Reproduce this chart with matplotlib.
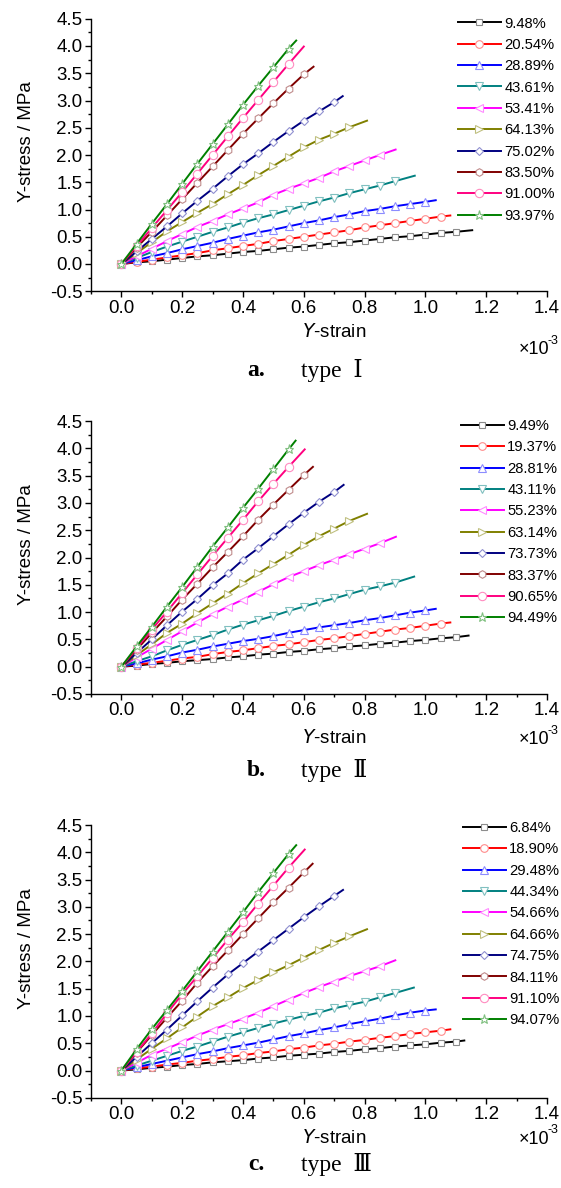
import matplotlib
matplotlib.use('Agg')
import matplotlib.pyplot as plt
from matplotlib import font_manager
from matplotlib.ticker import MultipleLocator, FormatStrFormatter

plt.rcParams['font.family'] = ['Liberation Sans', 'DejaVu Sans']
plt.rcParams['axes.unicode_minus'] = False

# strain points (x10^-3) where the curves were read; each curve ends at its own last strain
grid = [0.00, 0.05, 0.10, 0.15, 0.20, 0.25, 0.30, 0.35, 0.40, 0.45, 0.50, 0.55,
        0.60, 0.65, 0.70, 0.75, 0.80, 0.85, 0.90, 0.95, 1.00, 1.05, 1.10, 1.15]

# ---- a. type I
labels_a = ['9.48%', '20.54%', '28.89%', '43.61%', '53.41%', '64.13%', '75.02%', '83.50%', '91.00%', '93.97%']
ends_a = [1.154, 1.082, 1.034, 0.965, 0.902, 0.808, 0.728, 0.632, 0.600, 0.575]
a1 = [0, 0.03, 0.05, 0.08, 0.11, 0.14, 0.16, 0.19, 0.22, 0.24, 0.27, 0.30, 0.32, 0.35, 0.38, 0.40, 0.43, 0.46, 0.49, 0.51, 0.54, 0.57, 0.59, 0.62]
a2 = [0, 0.04, 0.08, 0.12, 0.16, 0.20, 0.25, 0.29, 0.33, 0.37, 0.42, 0.46, 0.50, 0.54, 0.58, 0.62, 0.67, 0.71, 0.75, 0.79, 0.83, 0.87, 0.89]
a3 = [0, 0.07, 0.14, 0.20, 0.27, 0.33, 0.39, 0.46, 0.52, 0.58, 0.63, 0.69, 0.75, 0.80, 0.86, 0.91, 0.97, 1.01, 1.06, 1.10, 1.14, 1.17]
a4 = [0, 0.11, 0.22, 0.32, 0.41, 0.50, 0.59, 0.67, 0.76, 0.84, 0.91, 0.99, 1.07, 1.15, 1.22, 1.30, 1.37, 1.44, 1.52, 1.62]
a5 = [0, 0.14, 0.28, 0.42, 0.55, 0.68, 0.79, 0.91, 1.02, 1.13, 1.27, 1.38, 1.48, 1.58, 1.70, 1.80, 1.90, 2.00, 2.10]
a6 = [0, 0.20, 0.40, 0.60, 0.77, 0.94, 1.10, 1.28, 1.45, 1.63, 1.80, 1.97, 2.14, 2.28, 2.39, 2.51, 2.63]
a7 = [0, 0.23, 0.46, 0.69, 0.93, 1.16, 1.38, 1.61, 1.83, 2.03, 2.24, 2.44, 2.63, 2.80, 2.97, 3.08]
a8 = [0, 0.30, 0.59, 0.89, 1.19, 1.49, 1.79, 2.09, 2.39, 2.67, 2.95, 3.22, 3.48, 3.62]
a9 = [0, 0.33, 0.66, 0.99, 1.32, 1.66, 2.00, 2.34, 2.68, 3.01, 3.34, 3.67, 3.99]
a10 = [0, 0.37, 0.74, 1.10, 1.47, 1.84, 2.20, 2.56, 2.92, 3.27, 3.61, 3.95, 4.10]

# ---- b. type II
labels_b = ['9.49%', '19.37%', '28.81%', '43.11%', '55.23%', '63.14%', '73.73%', '83.37%', '90.65%', '94.49%']
ends_b = [1.142, 1.082, 1.034, 0.963, 0.903, 0.808, 0.731, 0.630, 0.603, 0.573]
b1 = [0, 0.02, 0.05, 0.07, 0.10, 0.12, 0.14, 0.17, 0.19, 0.22, 0.24, 0.27, 0.29, 0.32, 0.34, 0.37, 0.39, 0.42, 0.44, 0.47, 0.49, 0.52, 0.54, 0.57]
b2 = [0, 0.04, 0.07, 0.11, 0.15, 0.18, 0.23, 0.27, 0.30, 0.34, 0.38, 0.41, 0.45, 0.49, 0.52, 0.56, 0.60, 0.64, 0.68, 0.71, 0.75, 0.79, 0.81]
b3 = [0, 0.06, 0.13, 0.19, 0.26, 0.31, 0.37, 0.42, 0.47, 0.51, 0.56, 0.62, 0.67, 0.72, 0.76, 0.80, 0.85, 0.89, 0.94, 0.99, 1.03, 1.06]
b4 = [0, 0.10, 0.19, 0.30, 0.40, 0.49, 0.58, 0.68, 0.77, 0.85, 0.93, 1.02, 1.10, 1.18, 1.25, 1.33, 1.41, 1.47, 1.54, 1.65]
b5 = [0, 0.17, 0.33, 0.49, 0.65, 0.81, 0.96, 1.10, 1.23, 1.37, 1.51, 1.64, 1.75, 1.86, 1.96, 2.06, 2.16, 2.26, 2.38]
b6 = [0, 0.21, 0.41, 0.62, 0.79, 0.98, 1.16, 1.34, 1.53, 1.71, 1.88, 2.05, 2.23, 2.39, 2.53, 2.67, 2.80]
b7 = [0, 0.25, 0.50, 0.76, 1.01, 1.24, 1.49, 1.71, 1.96, 2.17, 2.39, 2.61, 2.82, 3.02, 3.20, 3.33]
b8 = [0, 0.31, 0.62, 0.92, 1.23, 1.52, 1.82, 2.10, 2.39, 2.69, 2.97, 3.24, 3.51, 3.66]
b9 = [0, 0.34, 0.68, 1.01, 1.35, 1.69, 2.03, 2.36, 2.69, 3.03, 3.35, 3.66, 3.98]
b10 = [0, 0.37, 0.73, 1.10, 1.46, 1.83, 2.20, 2.55, 2.91, 3.26, 3.62, 3.98, 4.14]

# ---- c. type III
labels_c = ['6.84%', '18.90%', '29.48%', '44.34%', '54.66%', '64.66%', '74.75%', '84.11%', '91.10%', '94.07%']
ends_c = [1.128, 1.082, 1.034, 0.962, 0.901, 0.808, 0.729, 0.629, 0.603, 0.575]
c1 = [0, 0.02, 0.05, 0.07, 0.10, 0.12, 0.15, 0.17, 0.19, 0.22, 0.24, 0.27, 0.29, 0.31, 0.34, 0.36, 0.39, 0.41, 0.44, 0.46, 0.48, 0.51, 0.53, 0.55]
c2 = [0, 0.04, 0.07, 0.11, 0.14, 0.18, 0.21, 0.25, 0.28, 0.32, 0.35, 0.39, 0.42, 0.46, 0.49, 0.53, 0.56, 0.60, 0.63, 0.67, 0.70, 0.73, 0.755]
c3 = [0, 0.06, 0.12, 0.18, 0.24, 0.30, 0.35, 0.41, 0.46, 0.51, 0.57, 0.63, 0.68, 0.74, 0.79, 0.85, 0.90, 0.95, 1.01, 1.06, 1.10, 1.12]
c4 = [0, 0.09, 0.18, 0.27, 0.36, 0.44, 0.53, 0.62, 0.70, 0.78, 0.86, 0.93, 1.00, 1.06, 1.14, 1.20, 1.26, 1.34, 1.42, 1.52]
c5 = [0, 0.14, 0.29, 0.40, 0.52, 0.64, 0.75, 0.85, 0.95, 1.06, 1.18, 1.30, 1.42, 1.53, 1.63, 1.73, 1.82, 1.91, 2.02]
c6 = [0, 0.20, 0.40, 0.59, 0.79, 0.99, 1.18, 1.34, 1.51, 1.66, 1.80, 1.93, 2.07, 2.21, 2.34, 2.46, 2.59]
c7 = [0, 0.25, 0.50, 0.75, 1.01, 1.27, 1.52, 1.76, 1.97, 2.18, 2.39, 2.60, 2.81, 3.01, 3.20, 3.31]
c8 = [0, 0.33, 0.65, 0.97, 1.28, 1.61, 1.91, 2.20, 2.50, 2.79, 3.08, 3.35, 3.63, 3.79]
c9 = [0, 0.34, 0.68, 1.05, 1.40, 1.73, 2.06, 2.40, 2.72, 3.06, 3.39, 3.72, 4.05]
c10 = [0, 0.39, 0.76, 1.11, 1.46, 1.82, 2.18, 2.54, 2.90, 3.27, 3.62, 3.97, 4.13]

colors = ['#000000', '#FF0000', '#0000FF', '#008080', '#FF00FF',
          '#808000', '#000080', '#800000', '#FF0080', '#008000']
edges = ['#8C8C8C', '#FF8C8C', '#8C8CFF', '#80C0C0', '#FF8CFF',
         '#C0C080', '#9090D0', '#C08C8C', '#FF8CC0', '#80C080']
markers = ['s', 'o', '^', 'v', '<', '>', 'D', 'h', 'o', '*']
msizes = [5, 5.5, 5.5, 5.5, 5.5, 5.5, 4.5, 5.5, 6, 6.5]

# legend text in the original is narrow; use the narrow Liberation face when it is there
installed = {f.name for f in font_manager.fontManager.ttflist}
if 'Liberation Sans Narrow' in installed:
    leg_font = {'family': 'Liberation Sans Narrow', 'size': 12.5}
else:
    leg_font = {'family': 'Liberation Sans', 'size': 10.6}

W, H = 561, 1188
fig = plt.figure(figsize=(W / 100, H / 100), dpi=100)

panels = [
    (labels_a, ends_a, [a1, a2, a3, a4, a5, a6, a7, a8, a9, a10], 18.75, 291.25, (458, 16.5), 332, 350, 370, 'a.', 'type  Ⅰ'),
    (labels_b, ends_b, [b1, b2, b3, b4, b5, b6, b7, b8, b9, b10], 421, 694, (461, 419), 738, 740, 771, 'b.', 'type  Ⅱ'),
    (labels_c, ends_c, [c1, c2, c3, c4, c5, c6, c7, c8, c9, c10], 825, 1097.8, (463, 821), 1138, 1139, 1164, 'c.', 'type  Ⅲ'),
]

for labels, ends, curves, ytop, ybot, leg, ylab, yexp, ycap, tag, cap in panels:
    ax = fig.add_axes([91 / W, 1 - ybot / H, 456 / W, (ybot - ytop) / H])
    for lab, end, s, col, ec, m, ms in zip(labels, ends, curves, colors, edges, markers, msizes):
        x = grid[:len(s) - 1] + [end]
        ax.plot(x, s, color=col, lw=1.4, marker=m, ms=ms, mfc='white', mec=ec, mew=0.8,
                markevery=slice(0, len(s) - 1), label=lab)

    ax.set_xlim(-0.1, 1.4)
    ax.set_ylim(-0.5, 4.5)
    ax.xaxis.set_major_locator(MultipleLocator(0.2))
    ax.xaxis.set_minor_locator(MultipleLocator(0.1))
    ax.yaxis.set_major_locator(MultipleLocator(0.5))
    ax.yaxis.set_minor_locator(MultipleLocator(0.25))
    ax.xaxis.set_major_formatter(FormatStrFormatter('%.1f'))
    ax.yaxis.set_major_formatter(FormatStrFormatter('%.1f'))
    for sp in ['top', 'right']:
        ax.spines[sp].set_visible(False)
    for sp in ['left', 'bottom']:
        ax.spines[sp].set_linewidth(1.0)
    ax.tick_params(which='major', length=4, width=1.0, labelsize=13.5, pad=2)
    ax.tick_params(which='minor', length=2.5, width=1.0)

    ax.set_ylabel('Y-stress / MPa', fontsize=13.5)
    ax.yaxis.set_label_coords(-0.122, 0.548)
    fig.text(334 / W, 1 - ylab / H, '$\\mathit{Y}$-strain', fontsize=13.5, ha='center', va='center')
    fig.text(519 / W, 1 - yexp / H, '×10', fontsize=13, ha='left', va='center')
    fig.text(548 / W, 1 - (yexp - 9) / H, '-3', fontsize=9, ha='left', va='center')

    fig.text(256 / W, 1 - ycap / H, tag, fontsize=17, fontweight='bold', ha='center', va='center',
             family=['Liberation Serif', 'DejaVu Serif'])
    fig.text(301 / W, 1 - ycap / H, cap, fontsize=17, ha='left', va='center',
             family=['Liberation Serif', 'DejaVu Serif'])

    ax.legend(loc='upper left', bbox_to_anchor=(leg[0] / W, 1 - leg[1] / H), bbox_transform=fig.transFigure,
              frameon=False, borderpad=0, borderaxespad=0, handlelength=2.9, handletextpad=0.25,
              labelspacing=0.5, prop=leg_font, numpoints=1)

fig.savefig('out.png', dpi=100)
